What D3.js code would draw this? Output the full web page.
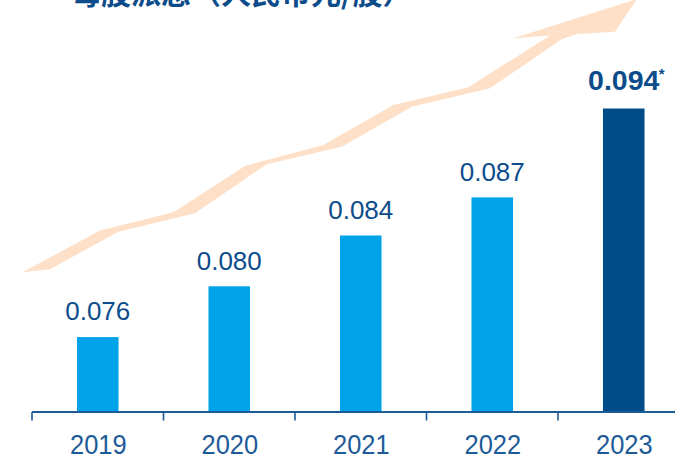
<!DOCTYPE html>
<html>
<head>
<meta charset="utf-8">
<script src="https://cdn.jsdelivr.net/npm/d3@7"></script>
<style>
  html, body { margin: 0; padding: 0; background: #ffffff; }
  svg { display: block; }
</style>
</head>
<body>
<div id="chart"></div>
<script>
// ---- data ----
const titleText = "每股派息（人民币元/股）";
const years = ["2019", "2020", "2021", "2022", "2023"];
const dividends = [0.076, 0.080, 0.084, 0.087, 0.094];
const valueLabels = ["0.076", "0.080", "0.084", "0.087", "0.094"];
const highlighted = [false, false, false, false, true];
const footnoteMark = "*";

// decorative rising arrow (outline, in pixel space)
const arrowShape = [
  [22.5, 272.3], [100, 230.5], [173.5, 212.3], [245, 166], [323.3, 145],
  [393.3, 105], [468.3, 87.3], [550, 35.5], [513.3, 38.3], [637, -1],
  [615, 31.7], [577, 34], [562, 39], [490, 88.3], [411.7, 106.7],
  [341.7, 146.7], [266.7, 164.3], [195, 213.3], [118.3, 231.7], [50, 269.3]
];

// ---- layout ----
const W = 675, H = 457;
const baseY = 412;
const colors = { light: "#00a3e7", dark: "#004c88", text: "#0d4c8b", axis: "#1d5a98", arrow: "#fde0c7" };

const svg = d3.select("#chart").append("svg")
  .attr("width", W).attr("height", H);

const x = d3.scaleBand()
  .domain(years)
  .range([32, 689.5])
  .paddingInner(0.684)
  .paddingOuter(0.342);

const y = d3.scaleLinear()
  .domain([0.0701, 0.094])
  .range([baseY, 108.5]);

// arrow
svg.append("path")
  .attr("d", d3.line()(arrowShape) + "Z")
  .attr("fill", colors.arrow);

// title (clipped at top)
svg.append("text")
  .attr("x", 71).attr("y", 3.5)
  .attr("font-family", "'Noto Sans CJK SC', sans-serif")
  .attr("font-size", 30).attr("font-weight", 700)
  .attr("fill", colors.text)
  .text(titleText);

// bars
svg.selectAll("rect.bar").data(years).join("rect")
  .attr("class", "bar")
  .attr("x", d => x(d))
  .attr("width", x.bandwidth())
  .attr("y", (d, i) => y(dividends[i]))
  .attr("height", (d, i) => baseY - y(dividends[i]))
  .attr("fill", (d, i) => highlighted[i] ? colors.dark : colors.light);

// value labels
const cx = d => x(d) + x.bandwidth() / 2;
svg.selectAll("text.val").data(years).join("text")
  .attr("class", "val")
  .attr("x", d => cx(d))
  .attr("y", (d, i) => y(dividends[i]) - (highlighted[i] ? 18.5 : 16.6))
  .attr("text-anchor", "middle")
  .attr("font-family", "'Liberation Sans', Arial, sans-serif")
  .attr("font-size", (d, i) => highlighted[i] ? 28.5 : 26)
  .attr("font-weight", (d, i) => highlighted[i] ? 700 : 400)
  .attr("fill", colors.text)
  .text((d, i) => valueLabels[i]);

// footnote mark next to highlighted value
years.forEach((d, i) => {
  if (!highlighted[i]) return;
  svg.append("text")
    .attr("x", cx(d) + 35)
    .attr("y", y(dividends[i]) - 30)
    .attr("font-family", "'Liberation Sans', Arial, sans-serif")
    .attr("font-size", 15).attr("font-weight", 700)
    .attr("fill", colors.text)
    .text(footnoteMark);
});

// axis
const step = x.step();
svg.append("line")
  .attr("x1", x(years[0]) - x.paddingOuter() * step).attr("x2", W)
  .attr("y1", baseY).attr("y2", baseY)
  .attr("stroke", colors.axis).attr("stroke-width", 2);

svg.selectAll("line.tick").data(years).join("line")
  .attr("class", "tick")
  .attr("x1", d => cx(d) - step / 2).attr("x2", d => cx(d) - step / 2)
  .attr("y1", baseY).attr("y2", baseY + 8.5)
  .attr("stroke", colors.axis).attr("stroke-width", 1.6);

svg.selectAll("text.year").data(years).join("text")
  .attr("class", "year")
  .attr("transform", d => `translate(${cx(d) + 0.6},${454.3}) scale(0.91,1)`)
  .attr("text-anchor", "middle")
  .attr("font-family", "'Liberation Sans', Arial, sans-serif")
  .attr("font-size", 28)
  .attr("fill", colors.axis)
  .text(d => d);
</script>
</body>
</html>
